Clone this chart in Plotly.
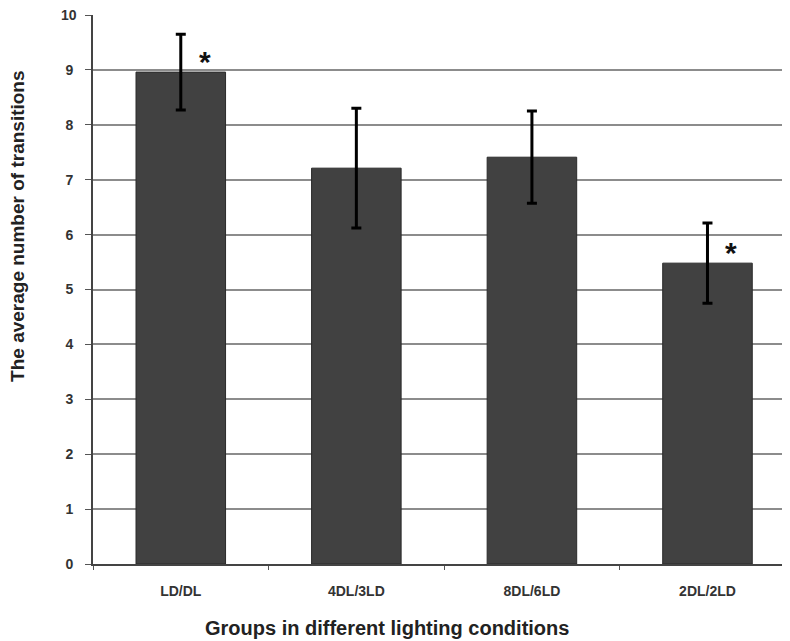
import plotly.graph_objects as go

categories = ["LD/DL", "4DL/3LD", "8DL/6LD", "2DL/2LD"]
means = [8.96, 7.21, 7.41, 5.48]
errors = [0.69, 1.09, 0.84, 0.73]
significant = [True, False, False, True]
y_ticks = list(range(0, 11))

FONT = "Liberation Sans, Arial"

fig = go.Figure()
fig.add_trace(go.Bar(
    x=categories, y=means,
    width=0.51,
    marker=dict(color="#414141", line=dict(color="#2a2a2a", width=1)),
    error_y=dict(type="data", array=errors, visible=True, color="#000000",
                 thickness=3, width=5),
    showlegend=False,
))

sig_y = [m + 0.2 for m in means]
for i, (c, s) in enumerate(zip(categories, significant)):
    if s:
        fig.add_annotation(x=i, y=sig_y[i], text="<b>*</b>", showarrow=False,
                           xshift=24, font=dict(size=30, color="#111111", family=FONT))

# top tick label drawn as annotation so it is not dropped at the edge
top_tick = y_ticks[-1]
fig.add_annotation(xref="paper", yref="y", x=0, y=top_tick, xanchor="right",
                   yanchor="middle", xshift=-14, showarrow=False,
                   text=f"<b>{top_tick}</b>",
                   font=dict(size=14, color="#333333", family=FONT))

fig.add_annotation(xref="paper", yref="paper", x=-0.1076, y=0.614, xanchor="center",
                   yanchor="middle", textangle=-90, showarrow=False,
                   text="<b>The average number of transitions</b>",
                   font=dict(size=19, color="#222222", family=FONT))
fig.add_annotation(xref="paper", yref="paper", x=0.4218, y=-0.1166, xanchor="center",
                   yanchor="middle", showarrow=False,
                   text="<b>Groups in different lighting conditions</b>",
                   font=dict(size=20, color="#222222", family=FONT))

# page body has an 8px margin; figure sized/offset to compensate
fig.update_layout(
    width=782, height=633,
    margin=dict(l=85, r=0, t=7, b=77),
    plot_bgcolor="white", paper_bgcolor="white",
    font=dict(family=FONT, color="#333333"),
)
fig.update_xaxes(
    range=[-0.5, 3.47], automargin=False,
    tickson="boundaries", ticks="outside", ticklen=4, tickcolor="#555555",
    showline=True, linecolor="#444444", linewidth=2,
    tickfont=dict(size=14, color="#333333", family=FONT),
    ticklabelstandoff=13,
    tickprefix="<b>", ticksuffix="</b>",
    showgrid=False,
)
fig.update_yaxes(
    range=[0, 10], tickvals=y_ticks, automargin=False,
    ticktext=[f"<b>{v}</b>" if v != top_tick else "" for v in y_ticks],
    ticks="outside", ticklen=6, tickcolor="#555555",
    ticklabelstandoff=9,
    showline=True, linecolor="#444444", linewidth=2,
    showgrid=True, gridcolor="#8c8c8c", gridwidth=1.5,
    tickfont=dict(size=14, color="#333333", family=FONT),
    zeroline=False,
)

fig.write_html("out.html")
